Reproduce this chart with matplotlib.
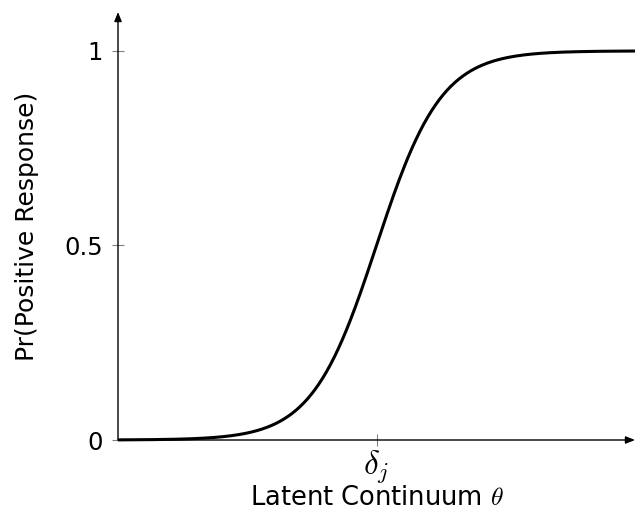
import numpy as np
import matplotlib
matplotlib.use("Agg")
import matplotlib.pyplot as plt

plt.rcParams['mathtext.fontset'] = 'cm'
plt.rcParams['font.family'] = ['DejaVu Sans']

# Data: item characteristic curve (Rasch / logistic), item location delta_j
theta_range = [-8.0, 8.0]
delta_j = 0.0
y_ticks = [0, 0.5, 1]
y_tick_labels = ["0", "0.5", "1"]
x_tick_labels = [r"$\delta_j$"]

theta = np.linspace(theta_range[0], theta_range[1], 400)
prob = 1.0 / (1.0 + np.exp(-(theta - delta_j)))

fig = plt.figure(figsize=(6.36, 5.16), dpi=100)
ax = fig.add_axes([118/636, 76/516, (635-118)/636, 428/516])
ax.set_xlim(theta_range)
ax.set_ylim(0, 1.1)

ax.plot(theta, prob, color='black', lw=2.2, solid_capstyle='butt', clip_on=False, zorder=3)

for s in ax.spines.values():
    s.set_visible(False)

# axis lines with arrows
ax.annotate('', xy=(theta_range[1], 0), xytext=(theta_range[0], 0),
            xycoords='data', arrowprops=dict(arrowstyle='-|>,head_length=0.55,head_width=0.22',
                                              color='black', lw=1.0, shrinkA=0, shrinkB=0),
            annotation_clip=False)
ax.annotate('', xy=(theta_range[0], 1.1), xytext=(theta_range[0], 0),
            xycoords='data', arrowprops=dict(arrowstyle='-|>,head_length=0.55,head_width=0.22',
                                              color='black', lw=1.0, shrinkA=0, shrinkB=0),
            annotation_clip=False)

ax.set_yticks(y_ticks)
ax.set_yticklabels(y_tick_labels, fontsize=17.5)
ax.set_xticks([delta_j])
ax.set_xticklabels(x_tick_labels, fontsize=24)
ax.tick_params(axis='both', direction='inout', length=8, width=0.8, color='gray')
ax.tick_params(axis='y', pad=7)
ax.tick_params(axis='x', pad=2)

ax.set_xlabel(r'Latent Continuum $\theta$', fontsize=18.5, labelpad=0)
ax.set_ylabel('Pr(Positive Response)', fontsize=18, labelpad=18)

fig.savefig('out.png', dpi=100)
